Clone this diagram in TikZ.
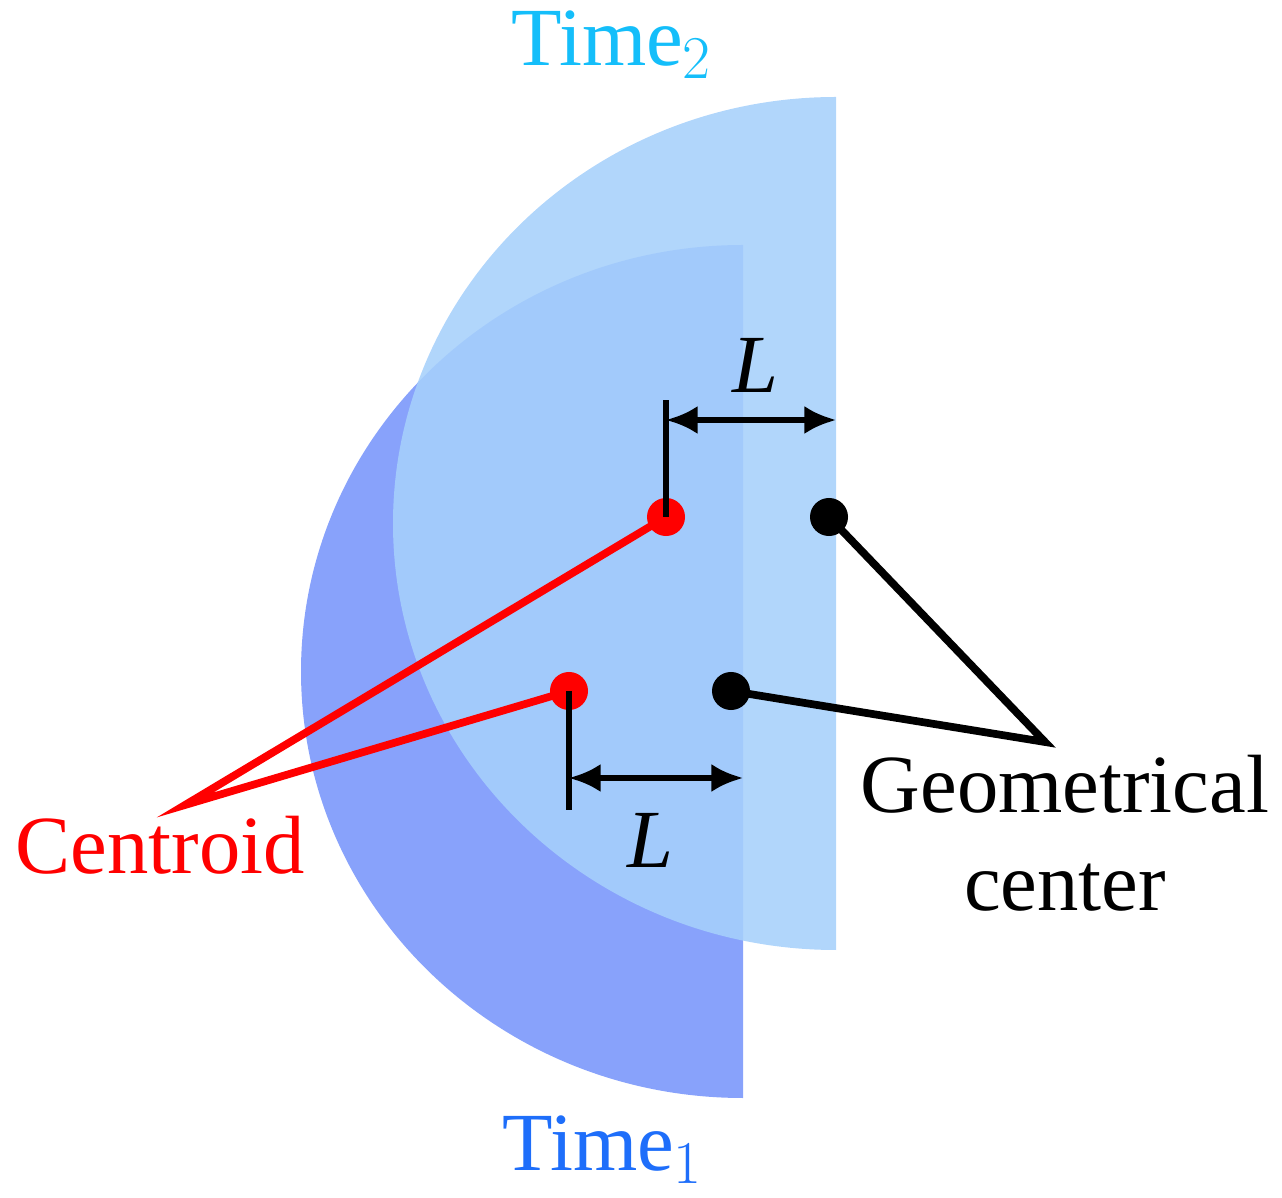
\documentclass[tikz,border=0pt]{standalone}
\usepackage{fontspec}
\setmainfont{Liberation Serif}
\usetikzlibrary{arrows.meta}
\definecolor{tone}{RGB}{136,162,251}
\definecolor{ttwo}{RGB}{166,208,251}
\definecolor{cyanl}{RGB}{20,190,250}
\definecolor{bluel}{RGB}{30,110,250}
\begin{document}
\begin{tikzpicture}[x=0.01cm,y=-0.01cm,
  lbl/.style={font=\fontsize{23.5pt}{28pt}\selectfont},
  dot/.style={circle,inner sep=0pt,minimum size=0.38cm},
  lead/.style={line width=2.2pt},
  dim/.style={line width=1.6pt,{Latex[length=9pt,width=8pt]}-{Latex[length=9pt,width=8pt]}}]
\useasboundingbox (0,0) rectangle (1282,1198);
\fill[tone] (743,245) arc[start angle=270,end angle=90,x radius=442,y radius=426.5] -- cycle;
\fill[ttwo,opacity=0.88] (836,97) arc[start angle=270,end angle=90,x radius=443,y radius=426.5] -- cycle;
\node[lbl,text=cyanl] (t2) at (612,45) {Time$_2$};
\node[lbl,text=bluel] (t1) at (603,1150) {Time$_1$};
\node[dot,fill=red] (c2) at (666,517) {};
\node[dot,fill=red] (c1) at (569,691) {};
\node[dot,fill=black] (g2) at (829,517) {};
\node[dot,fill=black] (g1) at (731,691) {};
\node[lbl,text=red] (cen) at (160,845) {Centroid};
\node[lbl,align=center] (geo) at (1065,833) {Geometrical\\center};
\coordinate (cj) at (185,805);
\coordinate (gj) at (1045,742);
\draw[lead,red] (c2.center) -- (cj) -- (c1.center);
\draw[lead] (g2.center) -- (gj) -- (g1.center);
\coordinate (a1) at (666,400); \coordinate (a2) at (666,420); \coordinate (a3) at (836,420);
\draw[line width=1.6pt] (c2.center) -- (a1);
\draw[dim] (a2) -- (a3);
\node[lbl] (l2) at (755,365) {\textit{L}};
\coordinate (b1) at (569,810); \coordinate (b2) at (569,778); \coordinate (b3) at (743,778);
\draw[line width=1.6pt] (c1.center) -- (b1);
\draw[dim] (b2) -- (b3);
\node[lbl] (l1) at (650,840) {\textit{L}};
\end{tikzpicture}
\end{document}
